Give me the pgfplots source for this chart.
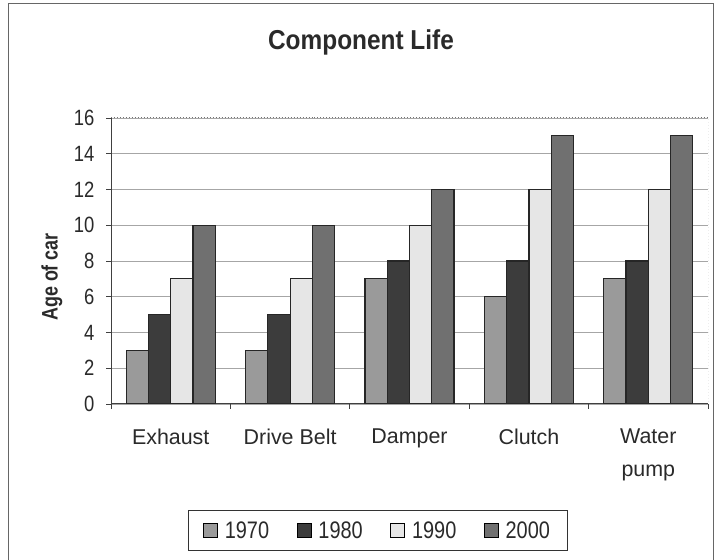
\documentclass[border=0pt]{standalone}
\usepackage{pgfplots}
\pgfplotsset{compat=1.18}
\usepackage{fontspec}
\setmainfont{Liberation Sans}
\definecolor{cA}{HTML}{9A9A9A}
\definecolor{cB}{HTML}{3C3C3C}
\definecolor{cC}{HTML}{E6E6E6}
\definecolor{cD}{HTML}{707070}
\definecolor{txt}{HTML}{2A2A2A}
\begin{document}
\begin{tikzpicture}[x=1bp,y=1bp]
\useasboundingbox (0,0) rectangle (716,560);
\fill[white] (0,0) rectangle (716,560);
\draw[gray!80!black,line width=1bp] (8,0) -- (8,556) -- (713,556) -- (713,0);
\node[font=\bfseries\fontsize{24.5}{28}\selectfont,text=txt] at (361,518) {\scalebox{1}[1.12]{Component Life}};
\node[rotate=90,font=\bfseries\fontsize{18}{22}\selectfont,text=txt] at (52,283) {\scalebox{1}[1.25]{Age of car}};
\begin{axis}[
  at={(111bp,156bp)}, anchor=south west, scale only axis,
  width=597bp, height=286bp,
  ybar=0pt, bar width=22.25bp,
  ymin=0, ymax=16, xmin=-0.5, xmax=4.5,
  ytick={0,2,...,16},
  xtick={0,1,2,3,4},
  xticklabels={Exhaust,Drive Belt,Damper,Clutch,{Water\\pump}},
  minor xtick={-0.5,0.5,1.5,2.5,3.5,4.5},
  axis x line*=bottom, axis y line*=left,
  axis line style={draw=black!75, line width=1bp},
  tick align=outside,
  major tick length=5bp, minor tick length=5bp,
  major x tick style={draw=none},
  minor x tick style={draw=black!75, line width=0.8bp},
  y tick style={draw=black!75, line width=0.8bp},
  ymajorgrids,
  grid style={draw=black!35, line width=0.6bp},
  /pgf/number format/assume math mode=true,
  yticklabel={\scalebox{1}[1.2]{\pgfmathprintnumber{\tick}}},
  yticklabel style={font=\fontsize{18.5}{22}\selectfont, text=txt, xshift=-8bp},
  xticklabel style={font=\fontsize{21.5}{33}\selectfont, text=txt, align=center, anchor=north, yshift=-16bp},
  legend columns=4,
  legend style={at={(0.4464,-0.4423)}, anchor=center, draw=black!80, line width=0.8bp,
    font=\fontsize{20}{22}\selectfont, text=txt, inner xsep=15bp, inner ysep=9bp,
    /tikz/every odd column/.append style={column sep=5bp},
    /tikz/every even column/.append style={column sep=25.5bp}},
  legend image code/.code={\draw[#1,draw=black,line width=0.8bp] (0bp,-7bp) rectangle (14bp,7bp);},
]
\addplot[fill=cA, draw=black!85, line width=1.2bp] coordinates {(0,3) (1,3) (2,7) (3,6) (4,7)};
\addplot[fill=cB, draw=black!85, line width=1.2bp] coordinates {(0,5) (1,5) (2,8) (3,8) (4,8)};
\addplot[fill=cC, draw=black!85, line width=1.2bp] coordinates {(0,7) (1,7) (2,10) (3,12) (4,12)};
\addplot[fill=cD, draw=black!85, line width=1.2bp] coordinates {(0,10) (1,10) (2,12) (3,15) (4,15)};
\legend{\scalebox{1}[1.2]{1970},\scalebox{1}[1.2]{1980},\scalebox{1}[1.2]{1990},\scalebox{1}[1.2]{2000}}
\draw[black!55, dotted, line width=1bp] (rel axis cs:0,1) -- (rel axis cs:1,1) -- (rel axis cs:1,0);
\end{axis}
\end{tikzpicture}
\end{document}
